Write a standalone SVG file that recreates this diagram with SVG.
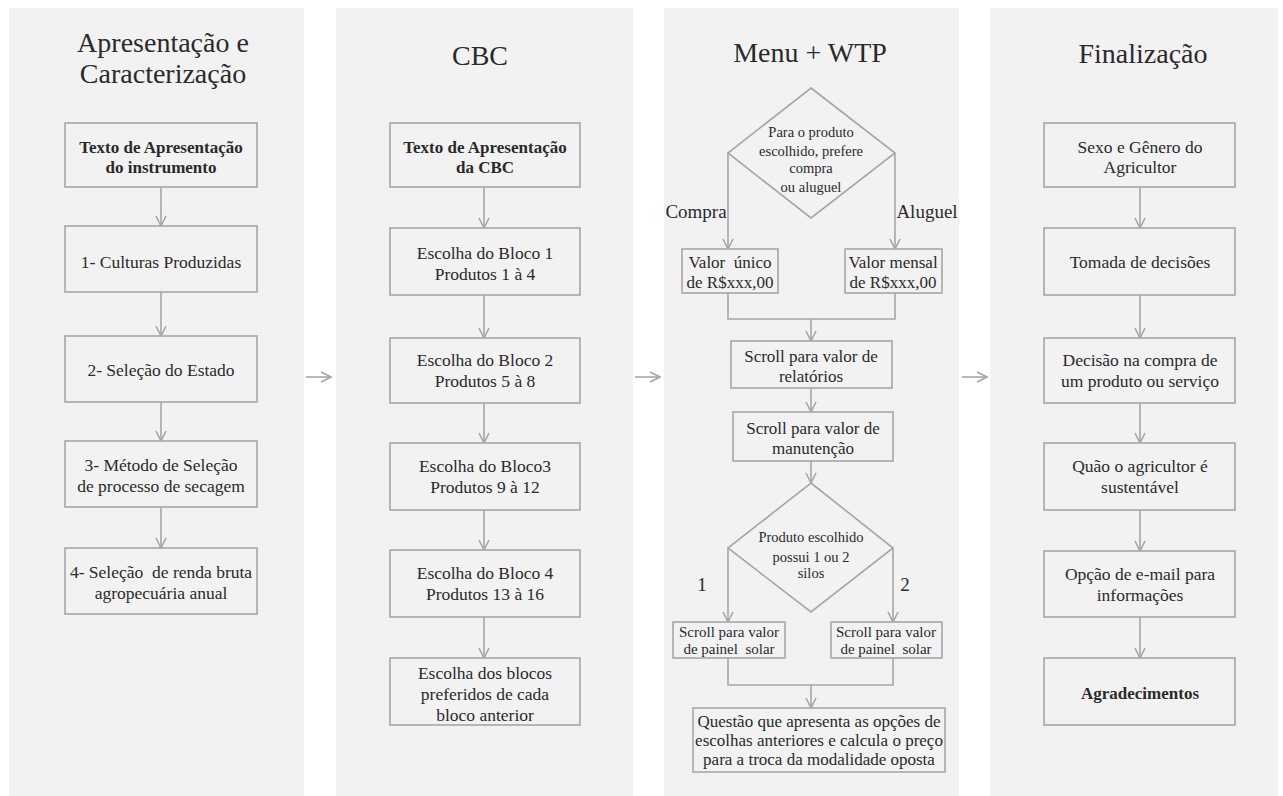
<svg xmlns="http://www.w3.org/2000/svg" width="1283" height="796" viewBox="0 0 1283 796">
  <style>
    .panel { fill: #f2f2f2; }
    .box { fill: #f2f2f2; stroke: #a6a6a6; stroke-width: 1.6; }
    .conn { fill: none; stroke: #a6a6a6; stroke-width: 1.6; }
    .arr { marker-end: url(#head); }
    text { font-family: "Liberation Serif", "Times New Roman", serif; fill: #2a2a2a; text-anchor: middle; white-space: pre; }
    .title { font-size: 28px; }
    .t { font-size: 17.5px; }
    .b { font-size: 17px; font-weight: bold; }
    .s { font-size: 14.5px; }
    .p { font-size: 15px; }
    .m { font-size: 17px; }
    .lab { font-size: 19px; }
  </style>
  <defs>
    <marker id="head" viewBox="0 0 12 12" refX="11" refY="6" markerWidth="12" markerHeight="12" markerUnits="userSpaceOnUse" orient="auto">
      <path d="M1,1 L11,6 L1,11" fill="none" stroke="#a6a6a6" stroke-width="1.6"/>
    </marker>
  </defs>

  <rect width="1283" height="796" fill="#ffffff"/>

  <!-- column backgrounds -->
  <g id="panels">
    <rect class="panel" x="9" y="8" width="295" height="788"/>
    <rect class="panel" x="336" y="8" width="297" height="788"/>
    <rect class="panel" x="664" y="8" width="295" height="788"/>
    <rect class="panel" x="990" y="8" width="288" height="788"/>
  </g>

  <!-- column titles -->
  <g id="titles">
    <text class="title" x="163" y="52">Apresentação e</text>
    <text class="title" x="163" y="83">Caracterização</text>
    <text class="title" x="480" y="65">CBC</text>
    <text class="title" x="810" y="62">Menu + WTP</text>
    <text class="title" x="1143" y="63">Finalização</text>
  </g>

  <!-- connectors -->
  <g id="connectors">
    <!-- between columns -->
    <line class="conn arr" x1="306" y1="377" x2="331" y2="377"/>
    <line class="conn arr" x1="635" y1="377" x2="660" y2="377"/>
    <line class="conn arr" x1="962" y1="377" x2="987" y2="377"/>

    <!-- column 1 -->
    <line class="conn arr" x1="161" y1="187" x2="161" y2="226"/>
    <line class="conn arr" x1="161" y1="292" x2="161" y2="336"/>
    <line class="conn arr" x1="161" y1="402" x2="161" y2="441"/>
    <line class="conn arr" x1="161" y1="507" x2="161" y2="548"/>

    <!-- column 2 -->
    <line class="conn arr" x1="484" y1="187" x2="484" y2="228"/>
    <line class="conn arr" x1="484" y1="295" x2="484" y2="338"/>
    <line class="conn arr" x1="484" y1="403" x2="484" y2="443"/>
    <line class="conn arr" x1="484" y1="510" x2="484" y2="550"/>
    <line class="conn arr" x1="484" y1="617" x2="484" y2="658"/>

    <!-- column 3 -->
    <line class="conn arr" x1="728" y1="153" x2="728" y2="249"/>
    <line class="conn arr" x1="895" y1="153" x2="895" y2="249"/>
    <polyline class="conn" points="728,293 728,319 895,319 895,293"/>
    <line class="conn arr" x1="811" y1="319" x2="811" y2="341"/>
    <line class="conn arr" x1="811" y1="388" x2="811" y2="412"/>
    <line class="conn arr" x1="811" y1="461" x2="811" y2="483"/>
    <line class="conn arr" x1="728" y1="548" x2="728" y2="622"/>
    <line class="conn arr" x1="893" y1="548" x2="893" y2="622"/>
    <polyline class="conn" points="728,658 728,685 893,685 893,658"/>
    <line class="conn arr" x1="811" y1="685" x2="811" y2="708"/>

    <!-- column 4 -->
    <line class="conn arr" x1="1140" y1="187" x2="1140" y2="228"/>
    <line class="conn arr" x1="1140" y1="295" x2="1140" y2="338"/>
    <line class="conn arr" x1="1140" y1="403" x2="1140" y2="443"/>
    <line class="conn arr" x1="1140" y1="510" x2="1140" y2="551"/>
    <line class="conn arr" x1="1140" y1="617" x2="1140" y2="658"/>
  </g>

  <!-- column 1: presentation and characterisation -->
  <g id="c1-intro">
    <rect class="box" x="65" y="123" width="192" height="64"/>
    <text class="b" x="161" y="153">Texto de Apresentação</text>
    <text class="b" x="161" y="173">do instrumento</text>
  </g>
  <g id="c1-culturas">
    <rect class="box" x="65" y="226" width="192" height="66"/>
    <text class="t" x="161" y="268">1- Culturas Produzidas</text>
  </g>
  <g id="c1-estado">
    <rect class="box" x="65" y="336" width="192" height="66"/>
    <text class="t" x="161" y="376">2- Seleção do Estado</text>
  </g>
  <g id="c1-metodo">
    <rect class="box" x="65" y="441" width="192" height="66"/>
    <text class="t" x="161" y="471">3- Método de Seleção</text>
    <text class="t" x="161" y="492">de processo de secagem</text>
  </g>
  <g id="c1-renda">
    <rect class="box" x="65" y="548" width="192" height="66"/>
    <text class="t" x="161" y="578">4- Seleção  de renda bruta</text>
    <text class="t" x="161" y="599">agropecuária anual</text>
  </g>

  <!-- column 2: CBC -->
  <g id="c2-intro">
    <rect class="box" x="390" y="123" width="190" height="64"/>
    <text class="b" x="485" y="153">Texto de Apresentação</text>
    <text class="b" x="485" y="173">da CBC</text>
  </g>
  <g id="c2-bloco1">
    <rect class="box" x="390" y="228" width="190" height="67"/>
    <text class="t" x="485" y="259">Escolha do Bloco 1</text>
    <text class="t" x="485" y="280">Produtos 1 à 4</text>
  </g>
  <g id="c2-bloco2">
    <rect class="box" x="390" y="338" width="190" height="65"/>
    <text class="t" x="485" y="366">Escolha do Bloco 2</text>
    <text class="t" x="485" y="387">Produtos 5 à 8</text>
  </g>
  <g id="c2-bloco3">
    <rect class="box" x="390" y="443" width="190" height="67"/>
    <text class="t" x="485" y="472">Escolha do Bloco3</text>
    <text class="t" x="485" y="493">Produtos 9 à 12</text>
  </g>
  <g id="c2-bloco4">
    <rect class="box" x="390" y="550" width="190" height="67"/>
    <text class="t" x="485" y="579">Escolha do Bloco 4</text>
    <text class="t" x="485" y="600">Produtos 13 à 16</text>
  </g>
  <g id="c2-preferidos">
    <rect class="box" x="390" y="658" width="190" height="67"/>
    <text class="t" x="485" y="679">Escolha dos blocos</text>
    <text class="t" x="485" y="700">preferidos de cada</text>
    <text class="t" x="485" y="721">bloco anterior</text>
  </g>

  <!-- column 3: menu + WTP -->
  <g id="c3-decisao-compra">
    <polygon class="box" points="811,88 895,153 811,218 728,153"/>
    <text class="s" x="811" y="137">Para o produto</text>
    <text class="s" x="811" y="156">escolhido, prefere</text>
    <text class="s" x="811" y="173">compra</text>
    <text class="s" x="811" y="192">ou aluguel</text>
  </g>
  <g id="c3-labels-1">
    <text class="lab" x="696" y="218">Compra</text>
    <text class="lab" x="927" y="218">Aluguel</text>
  </g>
  <g id="c3-unico">
    <rect class="box" x="682" y="249" width="96" height="44"/>
    <text class="m" x="730" y="268">Valor  único</text>
    <text class="m" x="730" y="288">de R$xxx,00</text>
  </g>
  <g id="c3-mensal">
    <rect class="box" x="845" y="249" width="97" height="44"/>
    <text class="m" x="893" y="268">Valor mensal</text>
    <text class="m" x="893" y="288">de R$xxx,00</text>
  </g>
  <g id="c3-relatorios">
    <rect class="box" x="731" y="341" width="161" height="47"/>
    <text class="m" x="811" y="362">Scroll para valor de</text>
    <text class="m" x="811" y="382">relatórios</text>
  </g>
  <g id="c3-manutencao">
    <rect class="box" x="733" y="412" width="160" height="49"/>
    <text class="m" x="813" y="434">Scroll para valor de</text>
    <text class="m" x="813" y="454">manutenção</text>
  </g>
  <g id="c3-decisao-silos">
    <polygon class="box" points="811,483 893,548 811,612 728,548"/>
    <text class="s" x="811" y="542">Produto escolhido</text>
    <text class="s" x="811" y="562">possui 1 ou 2</text>
    <text class="s" x="811" y="578">silos</text>
  </g>
  <g id="c3-labels-2">
    <text class="lab" x="702" y="591">1</text>
    <text class="lab" x="905" y="591">2</text>
  </g>
  <g id="c3-painel-1">
    <rect class="box" x="673" y="622" width="112" height="36"/>
    <text class="p" x="729" y="637">Scroll para valor</text>
    <text class="p" x="729" y="654">de painel  solar</text>
  </g>
  <g id="c3-painel-2">
    <rect class="box" x="831" y="622" width="111" height="36"/>
    <text class="p" x="886" y="637">Scroll para valor</text>
    <text class="p" x="886" y="654">de painel  solar</text>
  </g>
  <g id="c3-questao">
    <rect class="box" x="693" y="708" width="252" height="64"/>
    <text class="m" x="819" y="727">Questão que apresenta as opções de</text>
    <text class="m" x="819" y="746">escolhas anteriores e calcula o preço</text>
    <text class="m" x="819" y="765">para a troca da modalidade oposta</text>
  </g>

  <!-- column 4: closing -->
  <g id="c4-sexo">
    <rect class="box" x="1044" y="123" width="191" height="64"/>
    <text class="t" x="1140" y="153">Sexo e Gênero do</text>
    <text class="t" x="1140" y="173">Agricultor</text>
  </g>
  <g id="c4-tomada">
    <rect class="box" x="1044" y="228" width="191" height="67"/>
    <text class="t" x="1140" y="268">Tomada de decisões</text>
  </g>
  <g id="c4-compra">
    <rect class="box" x="1044" y="338" width="191" height="65"/>
    <text class="t" x="1140" y="366">Decisão na compra de</text>
    <text class="t" x="1140" y="387">um produto ou serviço</text>
  </g>
  <g id="c4-sustentavel">
    <rect class="box" x="1044" y="443" width="191" height="67"/>
    <text class="t" x="1140" y="472">Quão o agricultor é</text>
    <text class="t" x="1140" y="493">sustentável</text>
  </g>
  <g id="c4-email">
    <rect class="box" x="1044" y="551" width="191" height="66"/>
    <text class="t" x="1140" y="580">Opção de e-mail para</text>
    <text class="t" x="1140" y="601">informações</text>
  </g>
  <g id="c4-agradecimentos">
    <rect class="box" x="1044" y="658" width="191" height="67"/>
    <text class="b" x="1140" y="699">Agradecimentos</text>
  </g>
</svg>
